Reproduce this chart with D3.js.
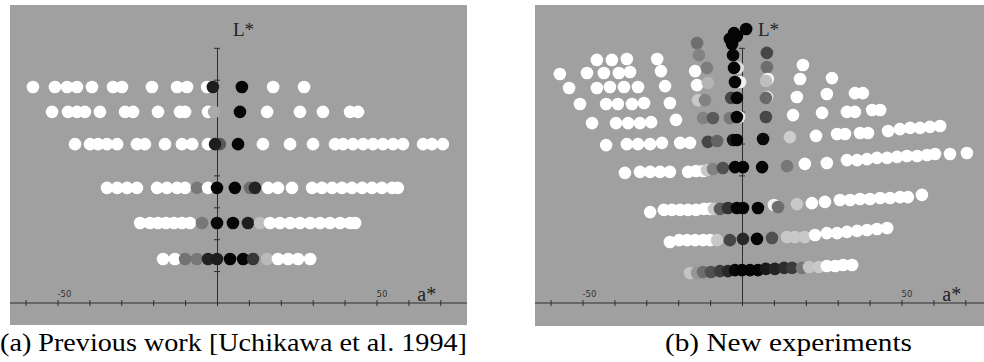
<!DOCTYPE html>
<html>
<head>
<meta charset="utf-8">
<script src="https://cdn.jsdelivr.net/npm/d3@7"></script>
<style>
  html, body { margin: 0; padding: 0; background: #fff; }
  svg { display: block; }
</style>
</head>
<body>
<svg id="chart" width="984" height="362"></svg>
<script>
// ---- axis ticks and labels ----
const aTicks = [-60, -50, -40, -30, -20, -10, 0, 10, 20, 30, 40, 50, 60, 70];
const lTicks = [10, 20, 30, 40, 50, 60, 70, 80];
const aTickLabels = [-50, 50];
const captions = ["(a) Previous work [Uchikawa et al. 1994]", "(b) New experiments"];

// ---- (a) previous work: one array per lightness row, entries [a*, grey level] ----
const prevL = [67.7, 59.9, 49.8, 36.1, 25.1, 13.8];
const prevRow1 = [[-57.7,255],[-50.8,255],[-47.0,255],[-43.9,255],[-39.2,255],[-32.6,255],[-29.8,255],[-20.4,255],[-12.5,255],[-9.4,255],[-3.1,255],[-1.3,30],[7.8,5],[17.6,255],[27.3,255]];
const prevRow2 = [[-51.7,255],[-46.7,255],[-43.9,255],[-41.4,255],[-36.7,255],[-28.8,255],[-26.3,255],[-18.5,255],[-11.6,255],[-10.0,255],[-2.8,255],[-0.9,170],[7.2,5],[15.7,255],[26.0,255],[33.2,255],[41.7,255],[44.2,255]];
const prevRow3 = [[-44.5,255],[-39.8,255],[-37.3,255],[-34.5,255],[-31.3,255],[-25.1,255],[-22.6,255],[-16.3,255],[-11.0,255],[-7.8,255],[-2.8,255],[0.9,90],[-0.6,30],[6.6,5],[14.4,255],[22.9,255],[30.1,255],[37.0,255],[39.5,255],[42.6,255],[45.8,255],[48.9,255],[52.0,255],[55.2,255],[58.3,255],[64.6,255],[67.4,255],[70.8,255]];
const prevRow4 = [[-34.5,255],[-31.3,255],[-28.2,255],[-25.1,255],[-18.8,255],[-15.7,255],[-12.5,255],[-10.0,255],[-6.3,120],[-2.8,255],[0,5],[5.6,5],[10.3,110],[11.9,35],[16.0,255],[19.1,255],[23.5,255],[29.8,255],[32.9,255],[36.1,255],[39.2,255],[42.3,255],[45.5,255],[48.6,255],[51.7,255],[54.9,255],[56.7,255]];
const prevRow5 = [[-24.1,255],[-21.0,255],[-18.5,255],[-16.0,255],[-13.5,255],[-11.0,255],[-8.5,255],[-4.7,120],[0,8],[5.0,5],[9.7,30],[13.5,190],[16.6,255],[19.7,255],[22.9,255],[26.0,255],[29.2,255],[32.3,255],[35.4,255],[38.6,255],[41.7,255],[43.3,255]];
const prevRow6 = [[-16.9,255],[-13.2,255],[-10.0,115],[-6.3,120],[-2.8,35],[0,30],[4.1,5],[8.2,5],[11.3,55],[15.7,185],[19.1,255],[22.3,255],[25.4,255],[29.2,255]];
const prevRows = [prevRow1, prevRow2, prevRow3, prevRow4, prevRow5, prevRow6];

// ---- (b) new experiments: entries [a*, L*, grey level] ----
const newUpperLeft = [
  [-45.5,76.2,255],[-40.8,76.2,255],[-36.1,76.5,255],[-26.6,76.5,255],
  [-57.1,71.8,255],[-48.6,72.1,255],[-43.3,72.1,255],[-38.6,72.1,255],[-35.1,72.4,255],[-25.4,72.7,255],
  [-54.2,67.4,255],[-45.5,67.4,255],[-41.4,67.7,255],[-37.0,67.7,255],[-32.6,67.7,255],[-24.1,68.0,255],
  [-50.8,62.4,255],[-42.6,62.4,255],[-38.9,62.4,255],[-34.5,62.4,255],[-30.7,62.7,255],[-22.6,62.7,255],
  [-47.0,56.4,255],[-39.5,56.4,255],[-35.7,56.4,255],[-32.0,56.4,255],[-28.5,56.7,255],[-20.7,57.4,255],
  [-42.6,49.5,255],[-36.1,49.8,255],[-32.6,49.8,255],[-28.8,49.8,255],[-25.1,50.2,255],[-19.4,50.2,255],[-16.3,50.2,255]
];
const newUpperRight = [
  [19.1,74.6,255],[18.2,70.2,255],[28.2,70.5,255],
  [17.2,64.6,255],[26.6,65.5,255],[35.4,65.8,255],[37.9,65.8,255],
  [16.0,58.9,255],[25.1,59.6,255],[32.9,59.9,255],[35.4,59.9,255],[40.8,60.5,255],[43.3,60.5,255],
  [15.0,52.0,205],[23.2,52.4,255],[29.8,53.0,255],[32.3,53.0,255],[37.0,53.3,255],[39.5,53.3,255],[45.8,53.9,255],
  [49.5,54.5,255],[52.7,54.9,255],[55.8,54.9,255],[58.9,55.2,255],[62.1,55.5,255]
];
const newRow42 = [
  [-36.7,40.8,255],[-32.0,41.1,255],[-28.8,41.1,255],[-25.7,41.1,255],[-22.6,41.1,255],[-16.9,41.1,255],[-14.4,41.4,255],[-12.2,41.4,255],
  [-11.0,41.7,200],[-9.1,42.0,130],[-6.0,42.3,80],[-2.2,42.6,5],[0.3,42.6,5],
  [6.3,42.6,5],[14.1,42.9,120],[19.7,43.6,255],[26.6,43.9,255],[32.9,44.8,255],[36.1,44.8,255],[39.2,45.1,255],[42.3,45.5,255],
  [45.5,45.5,255],[48.6,45.8,255],[51.7,46.1,255],[54.9,46.1,255],[58.0,46.4,255],[60.5,46.7,255],[65.2,46.7,255],[70.5,47.0,255]
];
const newRow30 = [
  [-28.8,28.5,255],[-24.5,29.2,255],[-22.0,29.2,255],[-19.4,29.2,255],[-16.9,29.2,255],[-14.4,29.2,255],[-11.9,29.5,255],[-10.0,29.5,255],
  [-8.8,29.5,200],[-6.9,29.5,90],[-4.4,29.8,50],[-1.6,29.8,5],[0.3,29.8,5],[5.0,29.8,5],[10.0,30.7,240],[11.3,30.1,110],[17.2,31.0,200],
  [21.9,31.3,255],[26.0,31.7,255],[30.7,32.3,255],[33.9,32.3,255],[37.0,32.6,255],[40.1,32.6,255],[43.3,32.9,255],[46.4,32.9,255],
  [49.5,33.2,255],[52.0,33.2,255],[56.4,33.9,255]
];
const newRow20 = [
  [-22.6,19.1,255],[-19.7,19.7,255],[-17.2,19.7,255],[-14.7,19.7,255],[-12.2,19.7,255],[-10.0,19.7,255],
  [-7.8,19.7,200],[-3.8,19.7,70],[0.3,20.1,40],[4.7,20.1,5],[9.4,20.4,80],[14.1,20.7,200],[16.6,20.7,200],[19.7,20.7,200],
  [22.9,21.3,255],[26.6,21.9,255],[29.8,21.9,255],[32.9,22.3,255],[36.1,22.6,255],[39.2,22.9,255],[42.3,23.2,255],[45.5,23.5,255]
];
const newRow10 = [
  [-16.3,9.4,195],[-14.1,9.4,150],[-12.2,9.7,110],[-9.7,9.7,80],[-6.9,10.0,60],[-4.4,10.0,40],[-2.2,10.3,10],[0,10.3,5],[2.5,10.3,5],
  [5.0,10.3,5],[7.5,10.7,25],[10.3,10.7,35],[13.2,11.0,45],[15.7,11.0,60],[18.8,11.0,120],[21.0,11.3,195],[24.1,11.3,200],
  [26.6,11.6,255],[29.2,11.6,255],[31.7,11.9,255],[34.5,11.9,255]
];
const newLeftGreys = [
  [-14.1,81.5,110],[-13.5,77.7,130],[-14.7,72.7,255],[-11.0,73.7,125],[-14.1,68.3,255],[-10.7,69.0,180],
  [-13.8,63.6,200],[-11.6,63.6,130],[-12.2,58.0,130],[-9.1,58.0,90],[-10.7,50.5,70],[-7.8,50.8,100]
];
const newRightGreys = [
  [7.8,78.4,70],[7.8,74.0,110],[8.1,70.2,245],[7.5,69.6,190],[7.8,64.6,240],[7.5,64.3,105],[7.5,58.3,70],[6.6,51.4,10]
];
const newAxisColumn = [
  [-2.8,77.7,5],[-1.3,73.7,220],[-2.5,73.7,5],[-0.6,69.3,240],[-2.2,69.3,5],[-3.4,64.3,70],[-1.6,64.3,5],
  [-3.8,58.0,120],[-0.9,58.3,230],[-1.6,58.3,5],[-2.8,51.1,25],[-1.6,51.1,5],
  [-3.8,82.8,5],[-3.1,81.2,5],[-1.6,83.7,5],[-2.5,84.6,5],[1.3,85.9,5]
];
const newPoints = [].concat(newUpperLeft, newUpperRight, newRow42, newRow30, newRow20, newRow10, newLeftGreys, newRightGreys, newAxisColumn);

// ---- layout ----
const svg = d3.select("#chart");
const panelBg = "#a0a0a0";
const axisColor = "#2e2e2e";
const dotR = 6.3;
const serif = "'Liberation Serif', 'DejaVu Serif', serif";

const panels = [
  { left: 10, right: 467, top: 5, bottom: 325, x0: 217 },
  { left: 535, right: 984, top: 5, bottom: 326, x0: 742 }
];
const pxPerUnit = 3.19;
const axisY = 303;

function makePanel(p, idx) {
  const g = svg.append("g");
  g.append("rect").attr("x", p.left).attr("y", p.top)
    .attr("width", p.right - p.left).attr("height", p.bottom - p.top)
    .attr("fill", panelBg);

  const x = d3.scaleLinear().domain([-60, 70])
    .range([p.x0 - 60 * pxPerUnit, p.x0 + 70 * pxPerUnit]);
  const y = d3.scaleLinear().domain([0, 80])
    .range([axisY, axisY - 80 * pxPerUnit]);

  // horizontal a* axis spanning the panel
  g.append("line").attr("x1", p.left).attr("x2", p.right)
    .attr("y1", axisY).attr("y2", axisY)
    .attr("stroke", axisColor).attr("stroke-width", 1);
  const xAxis = g.append("g").attr("transform", `translate(0,${axisY})`)
    .call(d3.axisBottom(x).tickValues(aTicks).tickSize(6).tickFormat(""));
  xAxis.select(".domain").remove();
  xAxis.selectAll(".tick line").attr("y1", -3).attr("y2", 3)
    .attr("stroke", axisColor);

  // vertical L* axis
  const yAxis = g.append("g").attr("transform", `translate(${x(0)},0)`)
    .call(d3.axisLeft(y).tickValues(lTicks).tickSize(6).tickFormat("").tickSizeOuter(0));
  yAxis.select(".domain").attr("stroke", axisColor);
  yAxis.selectAll(".tick line").attr("x1", -3).attr("x2", 3)
    .attr("stroke", axisColor);

  // small numeric labels
  g.selectAll("text.tl").data(aTickLabels).enter().append("text")
    .attr("class", "tl")
    .attr("x", d => x(d))
    .attr("y", axisY - 6)
    .attr("font-family", "'DejaVu Sans', sans-serif")
    .attr("font-size", 8.5)
    .attr("fill", "#333")
    .text(d => String(d));

  // axis names
  g.append("text").attr("x", x(0) + 16).attr("y", 36)
    .attr("font-family", serif).attr("font-size", 19).attr("fill", "#222")
    .text("L*");
  g.append("text").attr("x", x(62.8)).attr("y", axisY - 2)
    .attr("font-family", serif).attr("font-size", 20).attr("fill", "#222")
    .text("a*");

  return { g, x, y };
}

const grey = v => `rgb(${v},${v},${v})`;

// panel (a)
const pa = makePanel(panels[0], 0);
prevRows.forEach((row, i) => {
  pa.g.append("g").selectAll("circle").data(row).enter().append("circle")
    .attr("cx", d => pa.x(d[0]))
    .attr("cy", pa.y(prevL[i]))
    .attr("r", dotR)
    .attr("fill", d => grey(d[1]));
});

// panel (b)
const pb = makePanel(panels[1], 1);
pb.g.append("g").selectAll("circle").data(newPoints).enter().append("circle")
  .attr("cx", d => pb.x(d[0]))
  .attr("cy", d => pb.y(d[1]))
  .attr("r", dotR)
  .attr("fill", d => grey(d[2]));

// captions
svg.append("text").attr("x", 0).attr("y", 351)
  .attr("font-family", serif).attr("font-size", 26).attr("fill", "#000")
  .attr("textLength", 467).attr("lengthAdjust", "spacingAndGlyphs")
  .text(captions[0]);
svg.append("text").attr("x", 665).attr("y", 351)
  .attr("font-family", serif).attr("font-size", 26).attr("fill", "#000")
  .attr("textLength", 247).attr("lengthAdjust", "spacingAndGlyphs")
  .text(captions[1]);
</script>
</body>
</html>
